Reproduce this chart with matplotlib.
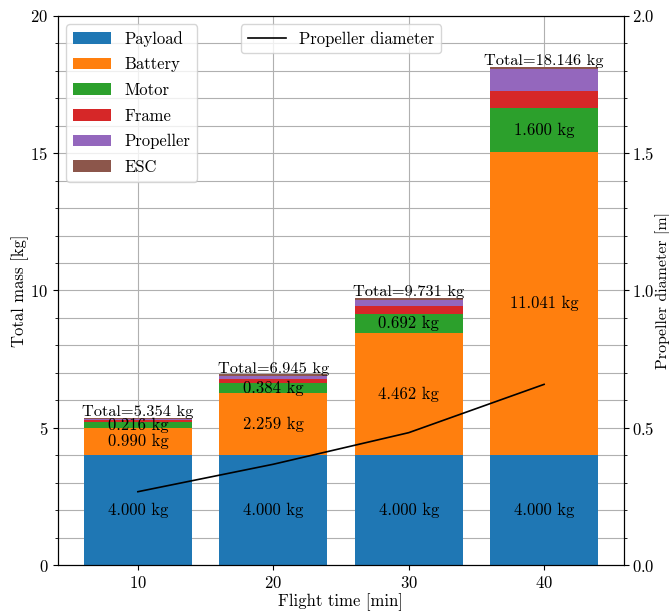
import matplotlib

matplotlib.use("Agg")
import matplotlib.pyplot as plt
import numpy as np
from matplotlib.ticker import MultipleLocator

plt.rcParams["font.family"] = ["cmr10", "DejaVu Serif"]
plt.rcParams["mathtext.fontset"] = "cm"
plt.rcParams["axes.formatter.use_mathtext"] = True
plt.rcParams["font.size"] = 12

# flight times [min]
flight_time = [10, 20, 30, 40]

# mass breakdown [kg]
components = ["Payload", "Battery", "Motor", "Frame", "Propeller", "ESC"]
payload = [4.000, 4.000, 4.000, 4.000]
battery = [0.990, 2.259, 4.462, 11.041]
motor = [0.216, 0.384, 0.692, 1.600]
frame = [0.070, 0.140, 0.277, 0.630]
propeller = [0.050, 0.112, 0.240, 0.790]
esc = [0.028, 0.050, 0.060, 0.085]
totals = [5.354, 6.945, 9.731, 18.146]

# propeller diameter [m]
prop_diameter = [0.267, 0.367, 0.482, 0.658]

colors = ["#1f77b4", "#ff7f0e", "#2ca02c", "#d62728", "#9467bd", "#8c564b"]
labelled = {"Payload", "Battery", "Motor"}

fig = plt.figure(figsize=(6.69, 6.13), dpi=100)
ax = fig.add_axes([0.0867, 0.0783, 0.846, 0.8957])

series = [payload, battery, motor, frame, propeller, esc]
bottom = np.zeros(len(flight_time))
for name, vals, col in zip(components, series, colors):
    vals = np.array(vals)
    ax.bar(flight_time, vals, 8, bottom=bottom, color=col, label=name)
    if name in labelled:
        for x, b, v in zip(flight_time, bottom, vals):
            ax.text(x, b + v / 2, f"{v:.3f} kg", ha="center", va="center")
    bottom += vals

for x, t in zip(flight_time, totals):
    ax.text(x, t - 0.05, f"Total={t:.3f} kg", ha="center", va="bottom",
            fontsize=11.8)

ax.set_ylim(0, 20)
ax.set_xticks(flight_time)
ax.yaxis.set_major_locator(MultipleLocator(5))
ax.yaxis.set_minor_locator(MultipleLocator(1))
ax.set_axisbelow(True)
ax.grid(which="both", axis="y", color="#b0b0b0")
ax.grid(which="major", axis="x", color="#b0b0b0")
ax.set_xlabel("Flight time [min]", labelpad=2)
ax.set_ylabel("Total mass [kg]", labelpad=1)
ax.legend(loc="upper left", labelspacing=0.62, handlelength=2.3)

ax2 = ax.twinx()
ax2.plot(flight_time, prop_diameter, color="black", lw=1.2, label="Propeller diameter")
ax2.set_ylim(0, 2.0)
ax2.yaxis.set_major_locator(MultipleLocator(0.5))
ax2.yaxis.set_minor_locator(MultipleLocator(0.1))
ax2.tick_params(axis="y", pad=2.5)
ax2.set_ylabel("Propeller diameter [m]", labelpad=0, fontsize=11.5)
ax2.legend(loc="upper center", handlelength=2.3)

fig.savefig("out.png", dpi=100)
